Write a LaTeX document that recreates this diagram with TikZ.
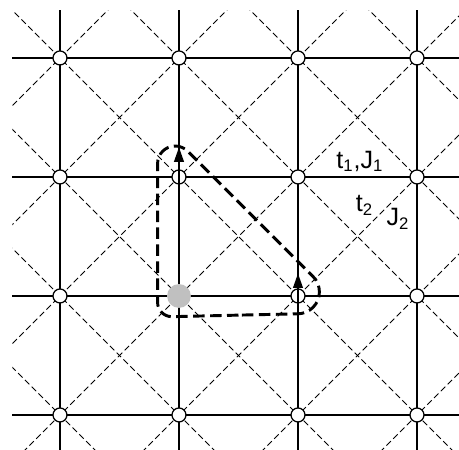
\documentclass[tikz,border=0pt]{standalone}
\usepackage{fontspec}
\setmainfont{Liberation Sans}
\definecolor{holegray}{RGB}{192, 192, 192}
\usetikzlibrary{arrows.meta, positioning}

\tikzset{
  bond/.style={line width=0.6pt},
  diagbond/.style={line width=0.45pt, dash pattern=on 3pt off 1.6pt},
  site/.style={circle, draw, fill=white, line width=0.6pt, minimum size=0.235cm, inner sep=0pt},
  hole/.style={circle, fill=holegray, minimum size=0.4cm, inner sep=0pt},
  hop/.style={line width=1pt, -{Triangle[length=7pt, width=4.6pt]}},
  ringex/.style={line width=1.4pt, dash pattern=on 5.5pt off 2.6pt},
  lbl/.style={font=\fontsize{12}{14}\selectfont, inner sep=0pt}
}

\begin{document}
\begin{tikzpicture}[x=2cm, y=2cm]
\useasboundingbox (-0.504,-0.286) rectangle (3.353,3.487);
\begin{scope}
  \clip (-0.504,-0.286) rectangle (3.353,3.487);
  \begin{scope}
    \clip (-0.4,-0.4) rectangle (3.4,3.4);
    \foreach \c in {-3,...,3}
      \draw[diagbond] ({\c-1},-1) -- ({\c+5},5);
    \foreach \c in {0,...,6}
      \draw[diagbond] ({\c+1},-1) -- ({\c-5},5);
  \end{scope}
  \foreach \i in {0,...,3} {
    \draw[bond] (-0.4,\i) -- (3.4,\i);
    \draw[bond] (\i,-0.4) -- (\i,3.4);
  }
\end{scope}

\foreach \i in {0,...,3}
  \foreach \j in {0,...,3}
    \node[site] (v\i\j) at (\i,\j) {};
\node[hole] (h11) at (v11) {};

\draw[ringex] (1.5,0.839) -- (0.94,0.826)
  arc[start angle=270, end angle=180, radius=0.12] -- (0.82,2.112)
  arc[start angle=180, end angle=45, radius=0.148] -- (2.126,1.164)
  arc[start angle=45, end angle=-90, radius=0.184] -- cycle;

\coordinate (up1s) at (1,1.85);
\coordinate (up1e) at (1,2.25);
\coordinate (up2s) at (2,0.9);
\coordinate (up2e) at (2,1.19);
\draw[hop] (up1s) -- (up1e);
\draw[hop] (up2s) -- (up2e);

\node[lbl] (tJ1) at (2.52,2.13) {t\textsubscript{1},J\textsubscript{1}};
\node[lbl] (t2) at (2.56,1.76) {t\textsubscript{2}};
\node[lbl] (J2) at (2.84,1.65) {J\textsubscript{2}};
\end{tikzpicture}
\end{document}
